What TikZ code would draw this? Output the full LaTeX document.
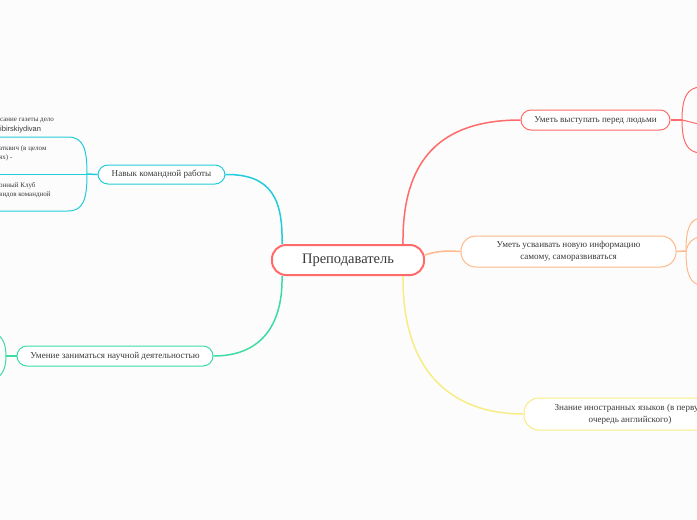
\documentclass[tikz,border=0pt]{standalone}
\usepackage{fontspec}
\setmainfont{Liberation Serif}
\newfontfamily\sansf{Liberation Sans}
\usetikzlibrary{calc}
\definecolor{cred}{HTML}{FF6B6B}
\definecolor{ccyan}{HTML}{22CCDA}
\definecolor{cgreen}{HTML}{3DDCA2}
\definecolor{corange}{HTML}{FFB98A}
\definecolor{cyellow}{HTML}{F8EC84}
\definecolor{ctext}{HTML}{3A3A3A}
\definecolor{cbg}{HTML}{FCFCFC}
\tikzset{
  topic/.style={draw=#1, fill=white, line width=1pt, rounded corners=10pt, inner sep=0pt,
    font=\fontsize{9.1}{12}\selectfont, text=ctext, align=center},
  link/.style={draw=#1, line width=1.5pt},
  sub/.style={draw=#1, line width=1pt},
  small/.style={anchor=west, inner sep=0pt, font=\fontsize{7}{8}\selectfont, text=ctext}
}
\begin{document}
\begin{tikzpicture}[x=1pt,y=-1pt]
\useasboundingbox (0,0) rectangle (697,520);
\fill[cbg] (0,0) rectangle (697,520);
\clip (0,0) rectangle (697,520);

% nodes
\node[topic=cred, line width=2pt, rounded corners=14pt, minimum width=152pt, minimum height=30pt, font=\fontsize{14.5}{16}\selectfont] (c) at (348,260) {Преподаватель};
\node[topic=ccyan, minimum width=127pt, minimum height=19pt] (cy) at (161.5,174.5) {Навык командной работы};
\node[topic=cgreen, minimum width=196pt, minimum height=20pt] (gr) at (115,356) {Умение заниматься научной деятельностью};
\node[topic=cred, minimum width=149pt, minimum height=20pt] (rd) at (595.5,120) {Уметь выступать перед людьми};
\node[topic=corange, rounded corners=15pt, minimum width=215pt, minimum height=31pt] (or) at (568.5,251.5) {Уметь усваивать новую информацию\\самому, саморазвиваться};
\node[topic=cyellow, rounded corners=15pt, minimum width=212pt, minimum height=32pt] (ye) at (630,414) {Знание иностранных языков (в первую\\очередь английского)};

% main connectors
\coordinate (cnw) at ($(c.north west)+(11,0)$);
\coordinate (csw) at ($(c.south west)+(11,0)$);
\coordinate (cne) at ($(c.north east)+(-22,0)$);
\coordinate (cse) at ($(c.south east)+(-22,0)$);
\coordinate (cer) at ($(c.east)+(0,-5)$);
\draw[link=ccyan] (cy.east) .. controls (272,174) and (283,200) .. (cnw);
\draw[link=cgreen] (gr.east) .. controls (265,356) and (283,320) .. (csw);
\draw[link=cred] (cne) .. controls (402,160) and (440,120) .. (rd.west);
\draw[link=corange] (cer) .. controls (440,250) and (450,251) .. (or.west);
\draw[link=cyellow] (cse) .. controls (402,370) and (450,414) .. (ye.west);

% cyan subtree (cut at left edge)
\coordinate (f1) at (87,174);
\draw[sub=ccyan, line width=1.5pt] (cy.west) -- (f1);
\draw[sub=ccyan] (f1) .. controls (87,150) and (84,137) .. (68,137) -- (-2,137);
\draw[sub=ccyan] (f1) -- (-2,174);
\draw[sub=ccyan] (f1) .. controls (87,198) and (84,211) .. (68,211) -- (-2,211);
\node[small] (t1) at (0,121) {сание газеты дело};
\node[small, font=\sansf\fontsize{7.5}{8}\selectfont] (t2) at (0,130) {ibirskiydivan};
\node[small] (t3) at (-1,149) {атквич (в целом};
\node[small] (t4) at (-1,158) {ях) -};
\node[small] (t5) at (-1,186) {онный Клуб};
\node[small] (t6) at (-1,195) {видов командной};

% green subtree
\coordinate (f2) at (6,356);
\draw[sub=cgreen, line width=1.5pt] (gr.west) -- (f2);
\draw[sub=cgreen] (f2) .. controls (6,345) and (3,337) .. (-4,334);
\draw[sub=cgreen] (f2) .. controls (6,367) and (3,375) .. (-4,378);

% red subtree
\coordinate (f3) at (682,120);
\draw[sub=cred, line width=1.5pt] (rd.east) -- (f3);
\draw[sub=cred] (f3) .. controls (682,96) and (688,88) .. (700,87);
\draw[sub=cred] (f3) .. controls (688,121) and (692,123) .. (700,124);
\draw[sub=cred] (f3) .. controls (682,144) and (688,152) .. (700,153);

% orange subtree
\coordinate (f4) at (686,251);
\draw[sub=corange, line width=1.5pt] (or.east) -- (f4);
\draw[sub=corange] (f4) .. controls (686,228) and (690,220) .. (700,218);
\draw[sub=corange] (f4) .. controls (688,243) and (692,238) .. (700,237);
\draw[sub=corange] (f4) .. controls (686,274) and (690,283) .. (700,285);
\end{tikzpicture}
\end{document}
